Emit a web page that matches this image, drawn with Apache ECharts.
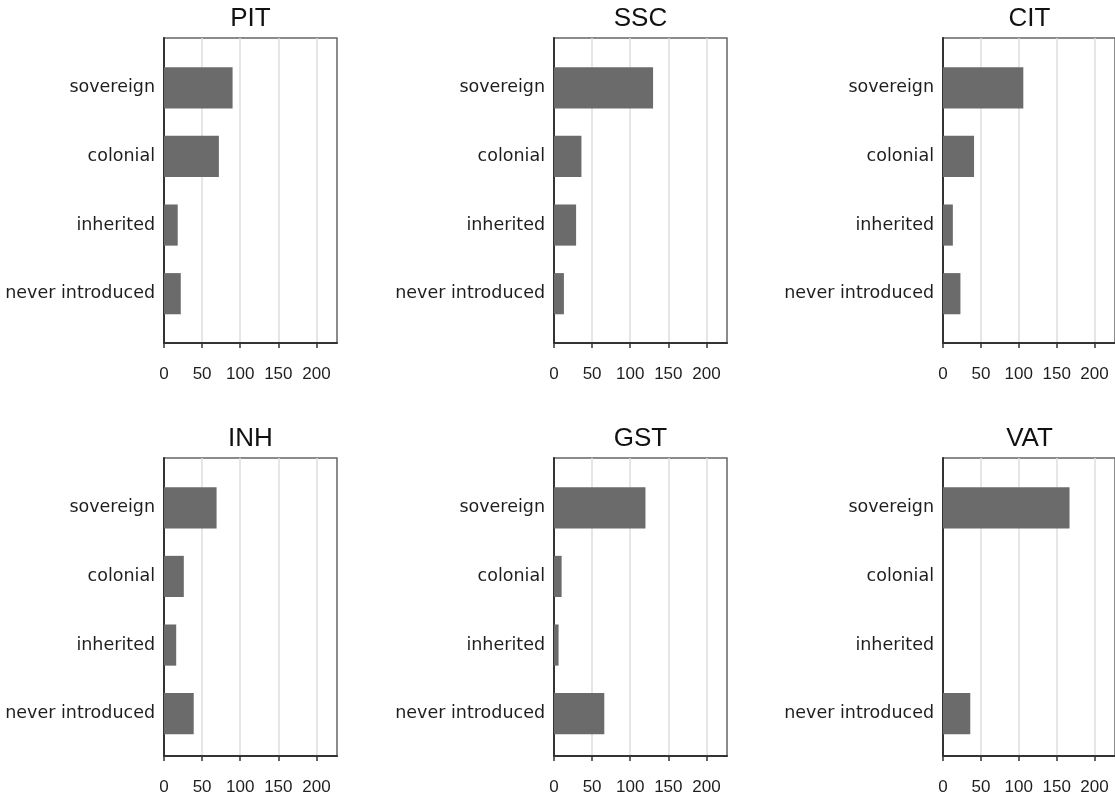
<!DOCTYPE html>
<html>
<head>
<meta charset="utf-8">
<script src="https://cdn.jsdelivr.net/npm/echarts@6/dist/echarts.min.js"></script>
<style>
html,body{margin:0;padding:0;background:#fff;}
#chart{width:1115px;height:796px;}
</style>
</head>
<body>
<div id="chart"></div>
<script>
// ---- data ----
const categories = ['sovereign', 'colonial', 'inherited', 'never introduced'];
const panelTitles = ['PIT', 'SSC', 'CIT', 'INH', 'GST', 'VAT'];
const pitValues = [90, 72, 18, 22];
const sscValues = [130, 36, 29, 13];
const citValues = [106, 41, 13, 23];
const inhValues = [69, 26, 16, 39];
const gstValues = [120, 10, 6, 66];
const vatValues = [167, 0, 0, 36];
const xTickValues = [0, 50, 100, 150, 200];
const xMax = 227;

const panelValues = [pitValues, sscValues, citValues, inhValues, gstValues, vatValues];

// ---- layout ----
const colLeft = [164, 554, 943];
const rowTop = [38, 458];
const frameW = 173, frameH = 305;
const dataTopPad = 15.5, dataBottomPad = 15;

const grids = [], xAxes = [], yAxes = [], series = [], titles = [];
const textColor = '#1e1e1e';

panelTitles.forEach((name, i) => {
  const col = i % 3, row = Math.floor(i / 3);
  const left = colLeft[col], top = rowTop[row];
  // frame grid
  const fg = grids.length;
  grids.push({left: left, top: top, width: frameW, height: frameH, show: true,
    borderColor: '#666', borderWidth: 1.5, backgroundColor: '#fff', containLabel: false});
  xAxes.push({type: 'value', gridIndex: fg, min: 0, max: xMax, interval: 50,
    axisLine: {show: true, onZero: false, lineStyle: {color: '#333', width: 2}},
    axisTick: {show: true, length: 5, customValues: xTickValues, lineStyle: {color: '#333', width: 1.5}},
    axisLabel: {show: true, customValues: xTickValues, margin: 23, fontSize: 17,
      fontFamily: 'Liberation Sans, Arial, sans-serif', color: textColor},
    splitLine: {show: true, lineStyle: {color: '#dedede', width: 1.5}}
  });
  yAxes.push({type: 'value', gridIndex: fg, min: 0, max: 1,
    axisLine: {show: true, onZero: false, lineStyle: {color: '#333', width: 2}},
    axisTick: {show: false}, axisLabel: {show: false}, splitLine: {show: false}});
  // data grid
  const dg = grids.length;
  grids.push({left: left, top: top + dataTopPad, width: frameW,
    height: frameH - dataTopPad - dataBottomPad, show: false});
  xAxes.push({type: 'value', gridIndex: dg, min: 0, max: xMax, show: false});
  yAxes.push({type: 'category', gridIndex: dg, data: categories, inverse: true,
    axisLine: {show: false}, axisTick: {show: false},
    axisLabel: {show: true, margin: 9, fontSize: 17.5,
      fontFamily: 'DejaVu Sans, sans-serif', color: textColor},
    splitLine: {show: false}});
  series.push({type: 'bar', xAxisIndex: dg, yAxisIndex: dg, data: panelValues[i],
    barWidth: '60%', z: 3,
    itemStyle: {color: '#6b6b6b', borderWidth: 0},
    emphasis: {disabled: true}, silent: true});
  titles.push({text: name, left: left + frameW / 2, top: top - 32, textAlign: 'center',
    padding: 0,
    textStyle: {fontSize: 26, fontWeight: 'normal', color: '#111',
      fontFamily: 'Liberation Sans, Arial, sans-serif'}});
});

const chart = echarts.init(document.getElementById('chart'), null, {renderer: 'canvas'});
chart.setOption({
  animation: false,
  backgroundColor: '#fff',
  title: titles,
  grid: grids,
  xAxis: xAxes,
  yAxis: yAxes,
  series: series
});
</script>
</body>
</html>
